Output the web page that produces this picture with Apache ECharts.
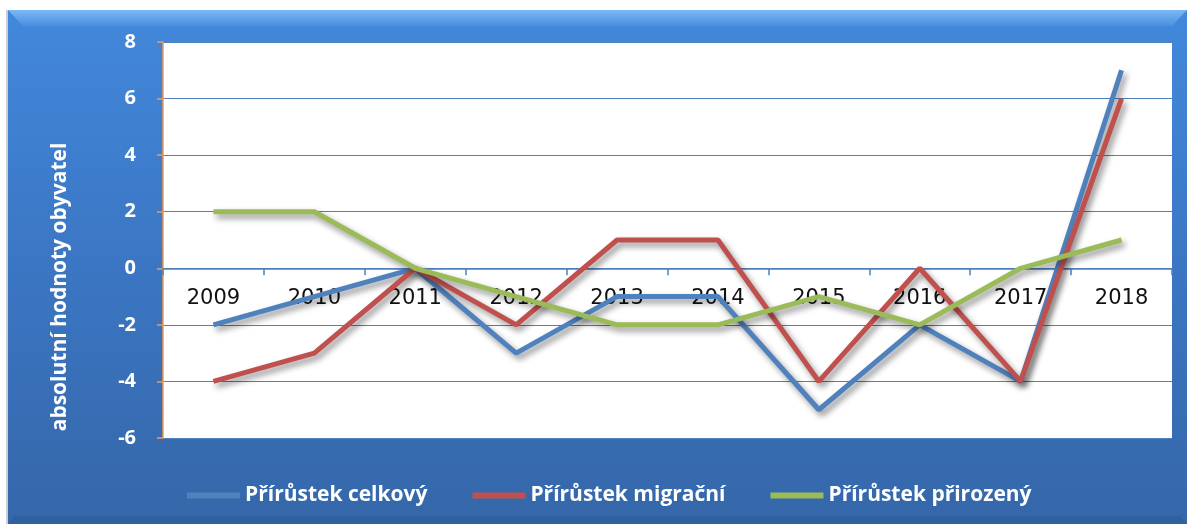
<!DOCTYPE html>
<html>
<head>
<meta charset="utf-8">
<script src="https://cdn.jsdelivr.net/npm/echarts@6/dist/echarts.min.js"></script>
<style>
html,body{margin:0;padding:0;background:#fff;}
#c{width:1190px;height:529px;}
</style>
</head>
<body>
<div id="c"></div>
<script>
var categories = ['2009','2010','2011','2012','2013','2014','2015','2016','2017','2018'];
var celkovy = [-2, -1, 0, -3, -1, -1, -5, -2, -4, 7];
var migracni = [-4, -3, 0, -2, 1, 1, -4, 0, -4, 6];
var prirozeny = [2, 2, 0, -1, -2, -2, -1, -2, 0, 1];
var seriesNames = ['Přírůstek celkový', 'Přírůstek migrační', 'Přírůstek přirozený'];
var yTitle = 'absolutní hodnoty obyvatel';
var yMin = -6, yMax = 8, yStep = 2;

var gridTop = 42, gridBottom = 91, chartH = 529;
var plotH = chartH - gridTop - gridBottom;
// offset of the category axis so it sits on the zero line
var zeroOffset = -plotH * (0 - yMin) / (yMax - yMin);

var chart = echarts.init(document.getElementById('c'));
var shadow = {shadowColor: 'rgba(0,0,0,0.45)', shadowBlur: 6, shadowOffsetX: 3, shadowOffsetY: 4};
function mk(name, data, color) {
  return {
    name: name, type: 'line', data: data, showSymbol: false, symbol: 'none',
    lineStyle: Object.assign({width: 5, color: color}, shadow),
    itemStyle: {color: color},
    emphasis: {disabled: true}, animation: false
  };
}
chart.setOption({
  animation: false,
  backgroundColor: '#ffffff',
  graphic: [
    {type: 'rect', z: -10, shape: {x: 8, y: 10, width: 1179, height: 514},
     style: {fill: new echarts.graphic.LinearGradient(0, 0, 0, 1, [
       {offset: 0, color: '#4288dc'}, {offset: 0.5, color: '#3b76c3'}, {offset: 1, color: '#3567a9'}])}},
    {type: 'polygon', z: -9, shape: {points: [[8,10],[1187,10],[1172,26],[23,26]]},
     style: {fill: new echarts.graphic.LinearGradient(0, 0, 0, 1, [
       {offset: 0, color: '#7ab8f6'}, {offset: 1, color: '#4a8fe0'}])}},
    {type: 'polygon', z: -9, shape: {points: [[8,524],[1187,524],[1180,516],[15,516]]},
     style: {fill: '#31609e'}},
    {type: 'rect', z: -11, shape: {x: 6, y: 10, width: 2, height: 514}, style: {fill: '#c9ced6'}},
    {type: 'text', z: 10, rotation: Math.PI / 2, x: 60, y: 287,
     style: {text: yTitle, fill: '#ffffff', font: 'bold 21px "Open Sans"', align: 'center', verticalAlign: 'middle'}}
  ],
  legend: {
    left: 182, top: 480, itemWidth: 53, itemHeight: 6, itemGap: 45, icon: 'rect',
    textStyle: {color: '#ffffff', fontFamily: 'Open Sans', fontWeight: 'bold', fontSize: 21},
    selectedMode: false,
    data: seriesNames
  },
  grid: {left: 163, top: gridTop, right: 18, bottom: gridBottom, show: true, backgroundColor: '#ffffff', borderWidth: 0, containLabel: false},
  xAxis: {
    type: 'category', data: categories, boundaryGap: true,
    offset: zeroOffset,
    axisLine: {onZero: false, lineStyle: {color: '#4f81bd', width: 1.5}},
    axisTick: {show: true, length: 7, alignWithLabel: false, lineStyle: {color: '#4f81bd', width: 1.5}},
    axisLabel: {color: '#111111', fontFamily: 'DejaVu Sans', fontSize: 21, margin: 20, interval: 0},
    splitLine: {show: false}
  },
  yAxis: {
    type: 'value', min: yMin, max: yMax, interval: yStep,
    axisLine: {show: true, lineStyle: {color: '#f39a4c', width: 1.5}},
    axisTick: {show: true, length: 6, lineStyle: {color: '#f39a4c', width: 1.5}},
    axisLabel: {color: '#ffffff', fontFamily: 'Open Sans', fontWeight: 'bold', fontSize: 20, margin: 27},
    splitLine: {show: true, lineStyle: {color: '#4f81bd', width: 1.2}}
  },
  series: [
    mk(seriesNames[0], celkovy, '#4f81bd'),
    mk(seriesNames[1], migracni, '#c0504d'),
    mk(seriesNames[2], prirozeny, '#9bbb59')
  ]
});
</script>
</body>
</html>
